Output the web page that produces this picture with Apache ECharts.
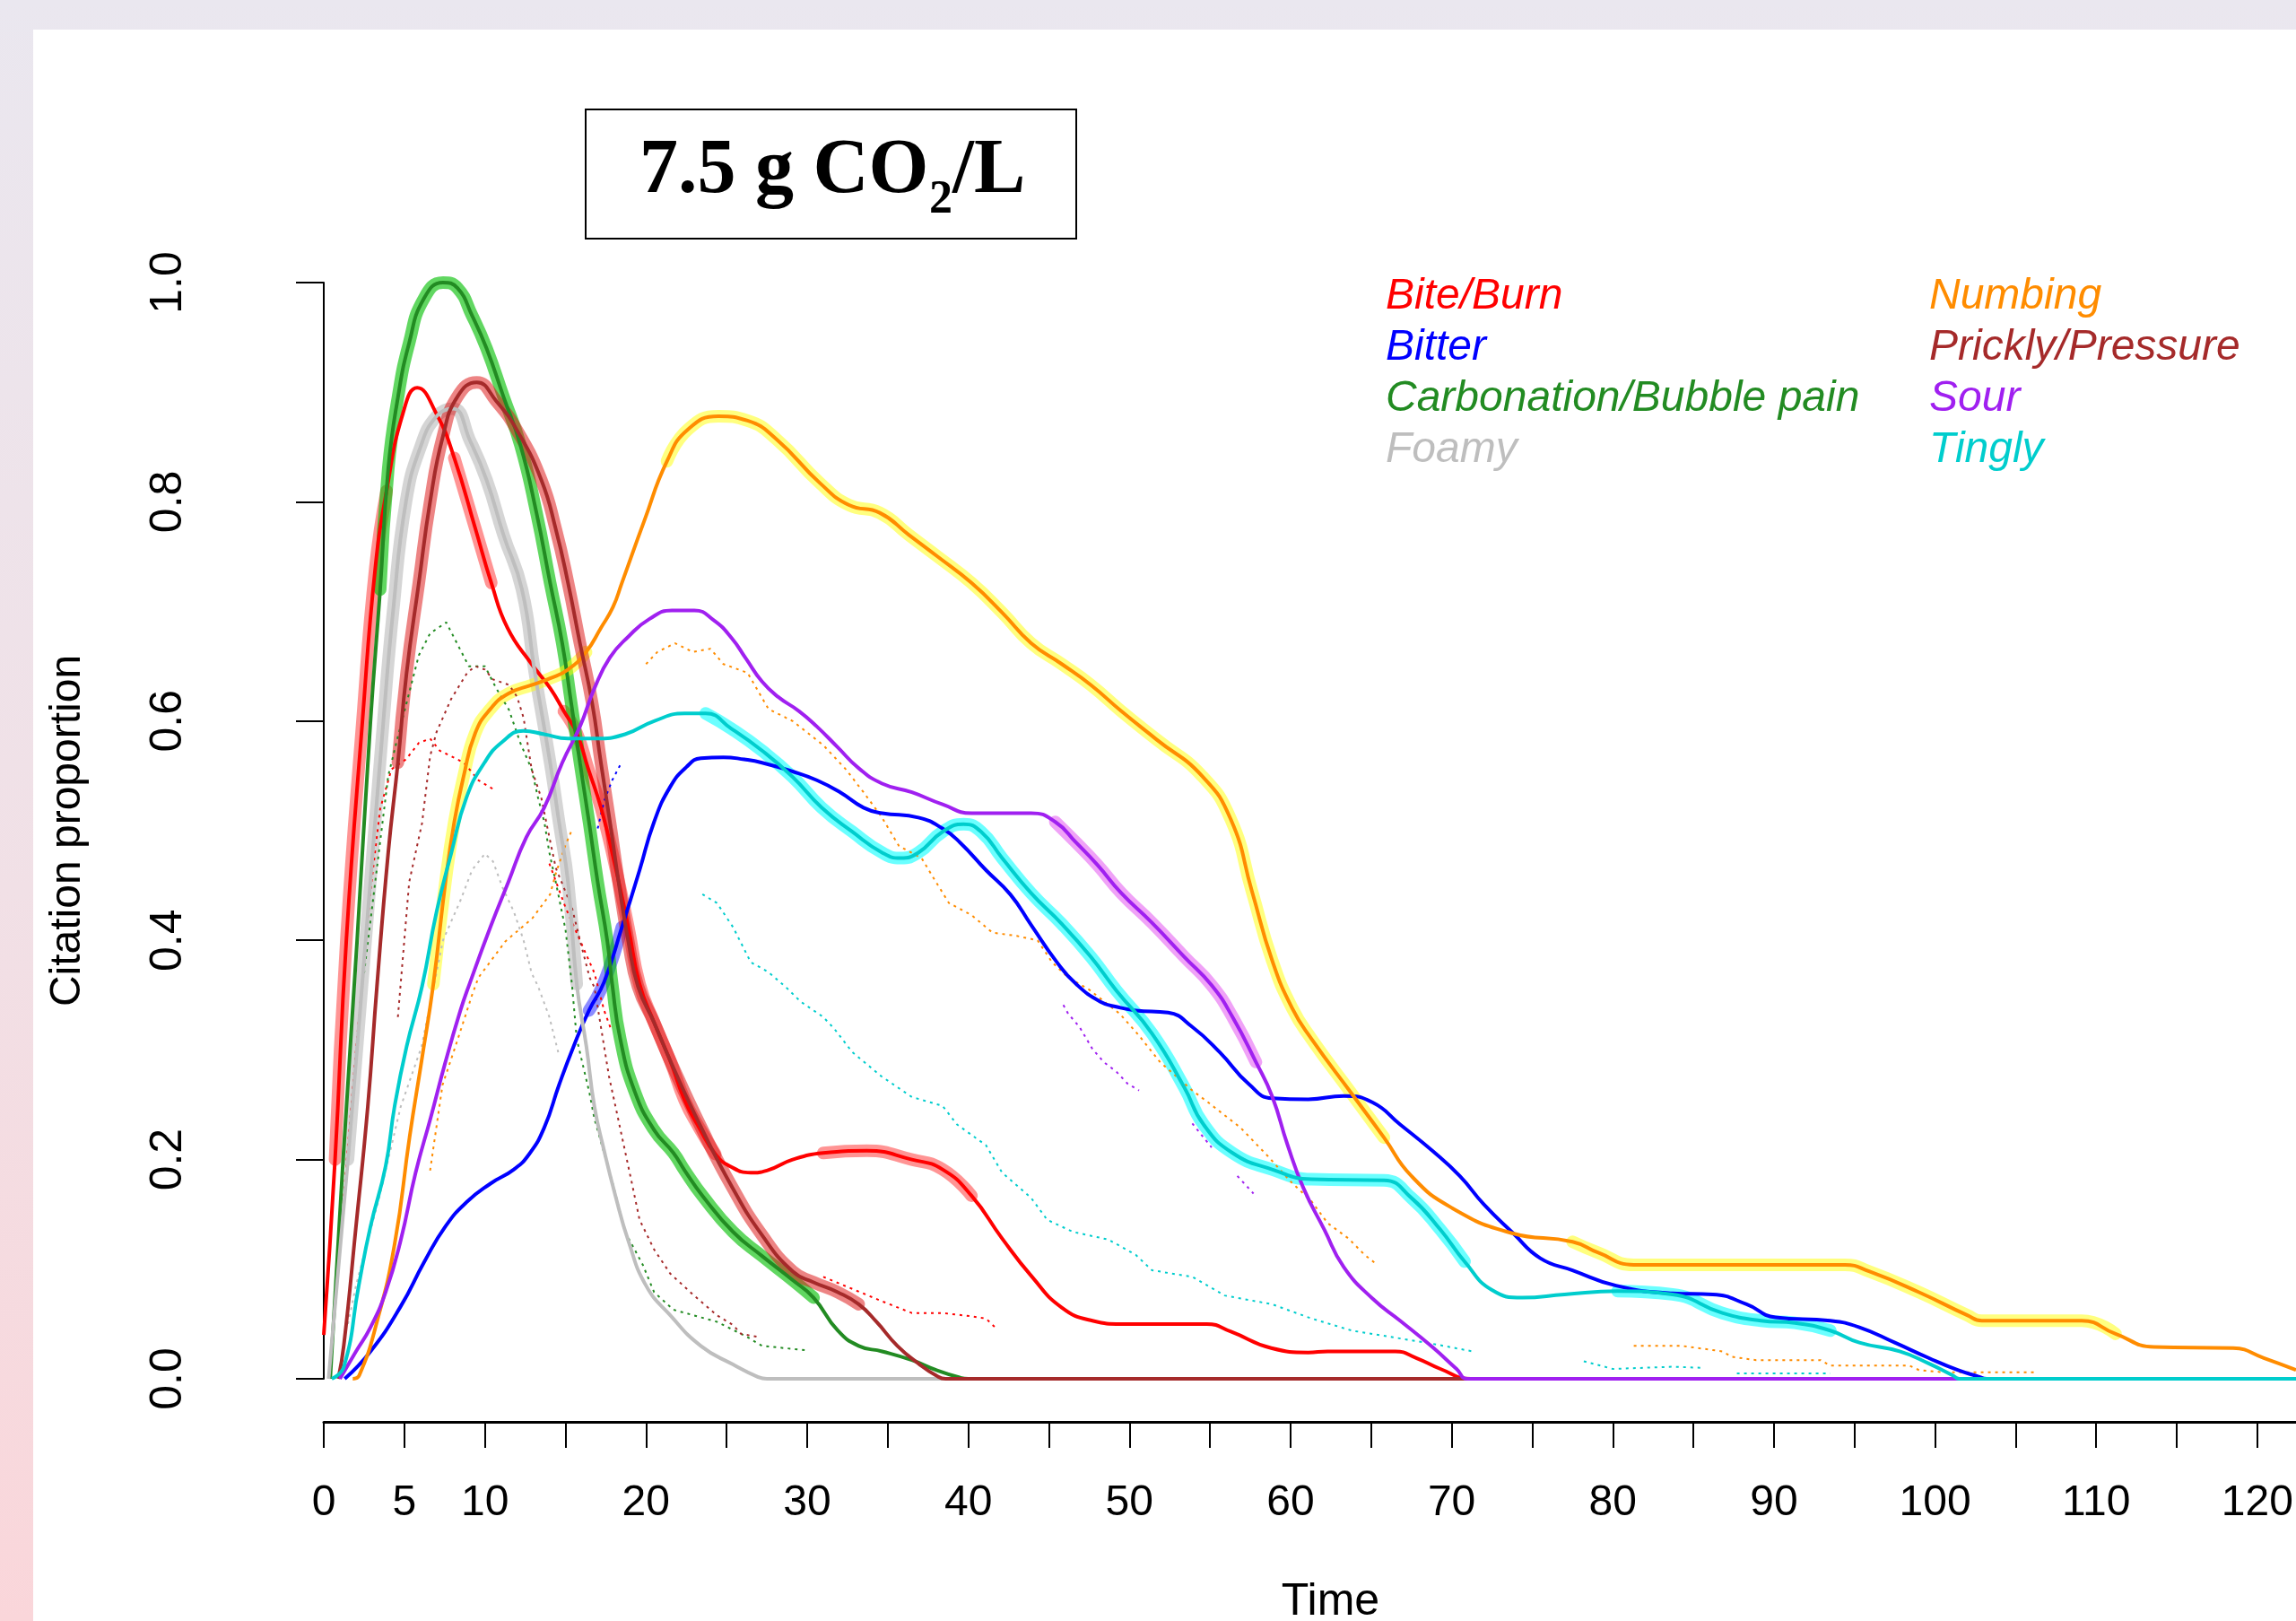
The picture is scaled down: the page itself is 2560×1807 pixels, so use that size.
<!DOCTYPE html>
<html>
<head>
<meta charset="utf-8">
<title>7.5 g CO2/L</title>
<script src="https://cdn.jsdelivr.net/npm/echarts@6/dist/echarts.min.js"></script>
<style>
  html, body {
    margin: 0;
    padding: 0;
    width: 2560px;
    height: 1807px;
    overflow: hidden;
    background: linear-gradient(180deg, #EAE7EF 0%, #F1E0E6 55%, #FAD6DA 100%);
  }
  #paper { position: absolute; left: 37px; top: 33px; width: 2523px; height: 1774px; background: #fff; }
  #chart { position: absolute; left: 0; top: 0; width: 2560px; height: 1807px; }
</style>
</head>
<body>
<div id="paper"></div>
<div id="chart"></div>
<script>
// time axis
const timeTicks = [0, 5, 10, 15, 20, 25, 30, 35, 40, 45, 50, 55, 60, 65, 70, 75, 80, 85, 90, 95, 100, 105, 110, 115, 120];
const timeLabels = [0, 5, 10, 20, 30, 40, 50, 60, 70, 80, 90, 100, 110, 120];

const attributeNames = ['Bite/Burn', 'Bitter', 'Carbonation/Bubble pain', 'Foamy',
  'Numbing', 'Prickly/Pressure', 'Sour', 'Tingly'];

// smoothed dominance curves [time, citation proportion]
const biteBurn = [[0, 0.04], [0.7, 0.2], [1.4, 0.4], [2.4, 0.6], [3.2, 0.74], [3.9, 0.81], [4.9, 0.88], [5.8, 0.904],
  [7.0, 0.88], [8.1, 0.84], [9.4, 0.776], [10.4, 0.726], [11.4, 0.685], [12.9, 0.652], [14.05, 0.63], [14.9, 0.609],
  [15.7, 0.589], [16.4, 0.557], [17.2, 0.521], [18.1, 0.467], [18.9, 0.412], [19.6, 0.36], [20.5, 0.325], [21.5, 0.29],
  [22.4, 0.254], [23.3, 0.229], [24.3, 0.205], [25.2, 0.194], [26.5, 0.188], [27.5, 0.19], [29.1, 0.2], [31, 0.206],
  [33.7, 0.208], [36.5, 0.2], [38.4, 0.191], [40.2, 0.167], [42.1, 0.128], [43.9, 0.094], [45.8, 0.065], [47.7, 0.053],
  [49.5, 0.05], [54.8, 0.05], [56.3, 0.043], [58.8, 0.028], [61.1, 0.024], [62.3, 0.025], [66.5, 0.025], [67.8, 0.019],
  [69.3, 0.009], [71.2, 0], [122.4, 0]];

const bitter = [[1.3, 0], [2.9, 0.025], [4.77, 0.066], [6.25, 0.107], [7.55, 0.139], [8.85, 0.161], [10.34, 0.178],
  [11.8, 0.191], [12.75, 0.205], [13.68, 0.229], [14.6, 0.268], [15.5, 0.303], [16.46, 0.336], [17.4, 0.362],
  [18.5, 0.412], [19.6, 0.464], [20.5, 0.508], [21.5, 0.54], [22.5, 0.558], [23.4, 0.566], [24.8, 0.567], [26.1, 0.565],
  [27.2, 0.562], [29.1, 0.554], [30.6, 0.546], [32.05, 0.535], [33.5, 0.521], [34.65, 0.516], [36.9, 0.512],
  [38.4, 0.502], [39.5, 0.489], [41.1, 0.464], [42.6, 0.442], [43.9, 0.414], [45.5, 0.38], [46.7, 0.36], [48.2, 0.344],
  [49.3, 0.339], [50.4, 0.336], [52.4, 0.334], [53.9, 0.321], [55.6, 0.298], [57.4, 0.269], [58.85, 0.256],
  [61.1, 0.255], [63.3, 0.258], [65.1, 0.252], [66.8, 0.232], [68.8, 0.208], [70.5, 0.185], [72, 0.159], [73.8, 0.133],
  [75.5, 0.11], [77.5, 0.099], [80.2, 0.085], [83.7, 0.078], [86.2, 0.077], [88.3, 0.068], [90.1, 0.056], [93.5, 0.053],
  [95.3, 0.047], [97.5, 0.033], [99.6, 0.019], [101.4, 0.008], [102.7, 0.002], [103.2, 0], [122.4, 0]];

const carbonation = [[0.4, 0], [1.2, 0.2], [2.07, 0.4], [2.9, 0.6], [3.5, 0.72], [4.0, 0.83], [4.6, 0.895], [5.3, 0.945],
  [6.2, 0.985], [7.4, 1.0], [8.3, 0.995], [9.2, 0.97], [10.1, 0.94], [11.15, 0.896], [12.2, 0.852], [13.2, 0.79],
  [14.05, 0.726], [14.8, 0.671], [15.35, 0.617], [15.9, 0.562], [16.46, 0.508], [17.0, 0.453], [17.6, 0.399],
  [17.9, 0.36], [18.4, 0.31], [19.3, 0.262], [20.5, 0.227], [21.7, 0.206], [22.4, 0.19], [23.5, 0.167], [25.4, 0.134],
  [27.2, 0.112], [29.1, 0.09], [30.4, 0.074], [31.9, 0.044], [33.2, 0.03], [34.65, 0.025], [36.5, 0.017], [38, 0.008],
  [39.5, 0.001], [40, 0], [122.4, 0]];

const foamy = [[0.3, 0], [1.5, 0.2], [2.6, 0.4], [3.7, 0.6], [4.3, 0.7], [5.1, 0.8], [6.0, 0.85], [7.0, 0.878],
  [8.0, 0.885], [9.1, 0.855], [10.1, 0.82], [11.15, 0.77], [12.3, 0.72], [13.1, 0.644], [14.05, 0.562], [14.6, 0.508],
  [15.16, 0.453], [15.7, 0.36], [16.3, 0.303], [16.8, 0.248], [17.4, 0.208], [18.1, 0.167], [18.9, 0.126], [20, 0.085],
  [21.5, 0.058], [23.4, 0.03], [25.4, 0.013], [26.9, 0.002], [27.5, 0], [122.4, 0]];

const numbing = [[1.8, 0], [2.2, 0.003], [3.3, 0.052], [4.4, 0.123], [5.33, 0.221], [6.07, 0.29], [6.8, 0.36],
  [7.55, 0.453], [8.1, 0.508], [8.67, 0.549], [9.4, 0.589], [10.34, 0.611], [11.45, 0.625], [12.94, 0.633],
  [14.05, 0.639], [15.16, 0.647], [16.28, 0.663], [17.2, 0.685], [17.95, 0.704], [18.5, 0.726], [19.9, 0.783],
  [21.3, 0.837], [22.6, 0.866], [24.5, 0.878], [26.3, 0.874], [28.1, 0.857], [30.8, 0.817], [32.6, 0.797], [34.5, 0.79],
  [36.3, 0.77], [38.1, 0.75], [40.2, 0.726], [42.1, 0.699], [43.9, 0.671], [45.8, 0.652], [47.6, 0.633], [49.5, 0.609],
  [51.7, 0.583], [54.5, 0.55], [56.3, 0.51], [57.6, 0.445], [58.85, 0.382], [60.1, 0.338], [61.3, 0.31], [63.8, 0.26],
  [65.8, 0.22], [67.5, 0.185], [70, 0.156], [73.7, 0.133], [77.5, 0.125], [79.1, 0.115], [81.3, 0.104], [86.8, 0.104],
  [94.4, 0.104], [95.9, 0.098], [99, 0.079], [102, 0.058], [102.9, 0.053], [109.1, 0.053], [111.2, 0.041],
  [113.6, 0.029], [118.5, 0.028], [120.4, 0.019], [122.4, 0.008]];

const prickly = [[0.9, 0], [1.24, 0.03], [2.0, 0.139], [2.73, 0.248], [3.3, 0.358], [4.0, 0.48], [4.6, 0.562],
  [5.14, 0.644], [5.9, 0.726], [6.6, 0.8], [7.4, 0.86], [8.3, 0.896], [9.5, 0.909], [10.7, 0.892], [12, 0.865],
  [13.5, 0.82], [14.4, 0.775], [15.16, 0.726], [15.9, 0.671], [16.65, 0.617], [17.2, 0.562], [17.76, 0.508],
  [18.3, 0.453], [18.9, 0.399], [19.5, 0.358], [20.5, 0.325], [21.6, 0.287], [23.4, 0.23], [25.3, 0.176], [27.2, 0.131],
  [29.1, 0.098], [30.4, 0.088], [31.9, 0.079], [33.2, 0.068], [34.3, 0.052], [35.6, 0.03], [36.9, 0.014], [38, 0.003],
  [38.6, 0], [122.4, 0]];

const sour = [[1.0, 0], [2.0, 0.025], [2.9, 0.047], [3.84, 0.079], [4.77, 0.126], [5.7, 0.188], [6.63, 0.238],
  [7.55, 0.289], [8.48, 0.336], [9.04, 0.36], [10.34, 0.412], [11.45, 0.453], [12.57, 0.494], [13.68, 0.521],
  [14.8, 0.562], [15.9, 0.595], [16.8, 0.63], [17.76, 0.658], [18.9, 0.677], [20.2, 0.693], [21.6, 0.701], [23.0, 0.701],
  [24.2, 0.692], [25.3, 0.676], [26.2, 0.657], [27.2, 0.636], [28.2, 0.622], [29.5, 0.609], [30.6, 0.595], [31.9, 0.576],
  [33.2, 0.557], [34.65, 0.543], [36.5, 0.535], [38.4, 0.524], [40.2, 0.516], [43.9, 0.516], [45.4, 0.508],
  [46.7, 0.489], [48, 0.469], [49.5, 0.443], [51.4, 0.416], [53.4, 0.385], [55.1, 0.359], [56.4, 0.33], [57.85, 0.289],
  [58.85, 0.258], [59.8, 0.214], [60.8, 0.174], [62.1, 0.136], [63.3, 0.102], [65.1, 0.073], [66.8, 0.053],
  [68.8, 0.029], [70.3, 0.009], [71, 0], [122.4, 0]];

const tingly = [[0.5, 0], [1.25, 0.011], [2.17, 0.085], [2.9, 0.139], [3.84, 0.194], [4.4, 0.249], [5.14, 0.303],
  [6.1, 0.358], [7.0, 0.426], [7.92, 0.48], [8.85, 0.53], [9.97, 0.562], [11.08, 0.581], [12.38, 0.591], [13.68, 0.588],
  [15.16, 0.584], [16.83, 0.584], [18.7, 0.588], [20.5, 0.6], [22.4, 0.607], [23.7, 0.607], [25.3, 0.593],
  [27.2, 0.573], [29.1, 0.549], [30.9, 0.521], [32.8, 0.499], [34.65, 0.48], [35.8, 0.475], [36.9, 0.48], [38.4, 0.499],
  [39.7, 0.506], [40.8, 0.499], [42.1, 0.475], [43.9, 0.443], [45.8, 0.415], [47.6, 0.385], [49.2, 0.354],
  [51.4, 0.315], [53.4, 0.266], [54.6, 0.232], [56.4, 0.206], [58.85, 0.191], [61.3, 0.182], [65.8, 0.181],
  [67.5, 0.165], [69.3, 0.136], [70.8, 0.107], [72.5, 0.081], [74.4, 0.074], [77, 0.077], [80.3, 0.08], [83.7, 0.077],
  [86.8, 0.06], [89.2, 0.053], [91.3, 0.051], [93.5, 0.044], [95.3, 0.033], [97.8, 0.025], [99.6, 0.014],
  [101.1, 0.003], [101.5, 0], [122.4, 0]];

// time spans where the curve is highlighted (significant)
const biteBurnSig = [[0.5, 4], [8, 11], [14.5, 25], [30.5, 42]];
const bitterSig = [[16.4, 18.6]];
const carbonationSig = [[3, 30.5]];
const foamySig = [[1, 16]];
const numbingSig = [[6.3, 16.3], [20, 66], [77.5, 112]];
const pricklySig = [[4.2, 27.5], [28.5, 30.5], [31.5, 33.5]];
const sourSig = [[45.4, 58]];
const tinglySig = [[23.2, 71.3], [78, 94]];

// dotted reference curves, one list of segments per attribute
const biteBurnDots = [
  [[1.2, 0.16], [2.0, 0.3], [2.9, 0.445], [3.5, 0.52], [4.2, 0.556], [5.1, 0.565], [5.9, 0.58], [6.6, 0.584],
   [7.2, 0.573], [7.9, 0.568], [8.7, 0.562], [9.6, 0.546], [10.5, 0.538]],
  [[14, 0.47], [15, 0.43], [15.9, 0.4], [16.8, 0.37], [17.4, 0.336], [17.8, 0.32]],
  [[31, 0.093], [32.8, 0.082], [34.6, 0.071], [36.5, 0.06], [38.4, 0.06], [40.2, 0.057], [41.1, 0.055], [41.8, 0.045]]
];
const bitterDots = [
  [[17.0, 0.502], [17.4, 0.527], [17.9, 0.546], [18.4, 0.56]]
];
const carbonationDots = [
  [[2.5, 0.37], [3.5, 0.49], [4.0, 0.55], [4.5, 0.58], [5.9, 0.66], [6.6, 0.68], [7.6, 0.69], [8.3, 0.67], [9.0, 0.65],
   [10, 0.65], [10.7, 0.63], [11.5, 0.61], [12.2, 0.58], [12.9, 0.556], [13.3, 0.53], [13.7, 0.507], [14.0, 0.48],
   [14.4, 0.453], [15, 0.41], [15.4, 0.36], [15.7, 0.31], [16.5, 0.26], [16.8, 0.237], [17.9, 0.18], [18.7, 0.134],
   [19.8, 0.104], [20.5, 0.079], [21.7, 0.063], [24.4, 0.052], [26.3, 0.038], [27.2, 0.03], [30, 0.026]]
];
const foamyDots = [
  [[1.5, 0.05], [2.0, 0.085], [3.47, 0.167], [4.77, 0.248], [6.07, 0.303], [7.4, 0.4], [8.5, 0.437], [9.2, 0.464],
   [10, 0.479], [10.5, 0.472], [11.1, 0.448], [11.8, 0.426], [12.4, 0.4], [12.9, 0.37], [13.3, 0.358], [14, 0.33],
   [14.6, 0.295]]
];
const numbingDots = [
  [[6.6, 0.19], [7.37, 0.268], [8.3, 0.309], [9.2, 0.35], [9.6, 0.366], [11.27, 0.399], [12.94, 0.42], [14.05, 0.442],
   [14.4, 0.461], [14.98, 0.486], [15.35, 0.499]],
  [[20, 0.652], [20.7, 0.663], [21.8, 0.671], [22.9, 0.663], [24, 0.666], [24.8, 0.652], [26.3, 0.644], [27.6, 0.611],
   [29.1, 0.6], [31, 0.578], [32.4, 0.556], [33.5, 0.535], [34.6, 0.513], [35.7, 0.486], [37.1, 0.475], [38, 0.453],
   [38.8, 0.434], [40.2, 0.423], [41.5, 0.407], [43, 0.404], [44.3, 0.4], [45.2, 0.38], [46.2, 0.366], [47.5, 0.355],
   [49.4, 0.333], [50.6, 0.313], [51.9, 0.289], [53.9, 0.263], [54.9, 0.252], [56.9, 0.229], [58.6, 0.203],
   [60, 0.18], [61.3, 0.162], [62.3, 0.142], [63.6, 0.128], [64.6, 0.113], [65.3, 0.105]],
  [[81.3, 0.03], [84.3, 0.03], [86.8, 0.025], [87.4, 0.02], [88.9, 0.017], [92.9, 0.017], [93.5, 0.012], [98.4, 0.012],
   [99, 0.008], [100.5, 0.006], [106.3, 0.006]]
];
const pricklyDots = [
  [[4.6, 0.33], [5.3, 0.453], [6.1, 0.507], [6.6, 0.568], [7.0, 0.59], [7.9, 0.62], [8.9, 0.644], [9.4, 0.65],
   [10, 0.647], [10.5, 0.638], [11.5, 0.633], [12.0, 0.622], [12.4, 0.603], [12.6, 0.584], [12.9, 0.556], [13.5, 0.53],
   [14, 0.494], [14.4, 0.466], [15.4, 0.43], [15.9, 0.4], [16.5, 0.366], [16.8, 0.357], [17.4, 0.303], [17.7, 0.276],
   [18.3, 0.235], [19.1, 0.18], [19.6, 0.145], [20.5, 0.118], [21.5, 0.096], [22.9, 0.077], [24.4, 0.058],
   [25.4, 0.049], [25.9, 0.041], [27, 0.038]]
];
const sourDots = [
  [[45.9, 0.341], [46.2, 0.333], [46.9, 0.321], [47.7, 0.301], [48.4, 0.289], [49.2, 0.28], [49.9, 0.269], [50.6, 0.263]],
  [[53.9, 0.233], [55.1, 0.211]],
  [[56.7, 0.185], [57.7, 0.169]]
];
const tinglyDots = [
  [[23.5, 0.442], [24.4, 0.434], [25.4, 0.412], [26.5, 0.38], [27.6, 0.371], [28.7, 0.357], [29.6, 0.344], [31, 0.33],
   [31.7, 0.319], [32.8, 0.298], [34.6, 0.276], [36.5, 0.257], [38.4, 0.249], [39.3, 0.232], [41.1, 0.213],
   [42.1, 0.188], [43.9, 0.165], [44.9, 0.145], [46.5, 0.134], [48.7, 0.127], [50.4, 0.113], [51.4, 0.099],
   [53.9, 0.093], [55.9, 0.076], [58.85, 0.068], [61.3, 0.055], [63.8, 0.044], [66.3, 0.038], [68.8, 0.032],
   [71.3, 0.025]],
  [[78.2, 0.016], [80, 0.009], [83.7, 0.011], [85.5, 0.01]],
  [[87.7, 0.005], [93.5, 0.005]]
];

const curves = [biteBurn, bitter, carbonation, foamy, numbing, prickly, sour, tingly];
const sigSpans = [biteBurnSig, bitterSig, carbonationSig, foamySig, numbingSig, pricklySig, sourSig, tinglySig];
const dotSegments = [biteBurnDots, bitterDots, carbonationDots, foamyDots, numbingDots, pricklyDots, sourDots, tinglyDots];

const lineColors = ['#FF0000', '#0000FF', '#228B22', '#BEBEBE', '#FF8C00', '#A52A2A', '#A020F0', '#00CDCD'];
const glowColors = ['rgba(255,0,0,0.42)', 'rgba(0,0,255,0.45)', 'rgba(0,190,0,0.62)', 'rgba(185,185,185,0.6)',
  'rgba(255,255,0,0.5)', 'rgba(220,20,20,0.52)', 'rgba(225,70,240,0.5)', 'rgba(0,255,255,0.58)'];

function sigPart(points, spans) {
  return points.map(p => spans.some(s => p[0] >= s[0] && p[0] <= s[1]) ? p : [p[0], '-']);
}
function joinSegments(segs) {
  const out = [];
  segs.forEach((s, i) => {
    if (i) out.push([s[0][0], '-']);
    out.push(...s);
  });
  return out;
}

const font = 'Liberation Sans';
const series = [];
// halos first, then dotted curves, then the solid curves
attributeNames.forEach((name, i) => {
  series.push({
    type: 'line', name, data: sigPart(curves[i], sigSpans[i]), smooth: 0.5,
    symbol: 'none', connectNulls: false, silent: true, z: 1,
    lineStyle: { color: glowColors[i], width: 14, cap: 'round', join: 'round' },
    emphasis: { disabled: true }
  });
});
attributeNames.forEach((name, i) => {
  series.push({
    type: 'line', name, data: joinSegments(dotSegments[i]), symbol: 'none', connectNulls: false, silent: true, z: 2,
    lineStyle: { color: lineColors[i], width: 2, type: [3, 5] },
    emphasis: { disabled: true }
  });
});
attributeNames.forEach((name, i) => {
  series.push({
    type: 'line', name, data: curves[i], smooth: 0.5, symbol: 'none', z: 3,
    lineStyle: { color: lineColors[i], width: 4 },
    emphasis: { disabled: true }
  });
});

const legendBase = {
  orient: 'vertical', icon: 'rect', itemWidth: 0, itemHeight: 47, itemGap: 9, padding: 0,
  itemStyle: { opacity: 0 }, lineStyle: { opacity: 0 },
  textStyle: { fontFamily: font, fontStyle: 'italic', fontSize: 48 }
};

const chart = echarts.init(document.getElementById('chart'));
chart.setOption({
  animation: false,
  backgroundColor: 'transparent',
  grid: { left: 361, right: 0, top: 315, bottom: 270, containLabel: false, outerBoundsMode: 'none' },
  xAxis: {
    type: 'value', min: 0, max: 122.4, offset: 48,
    name: 'Time', nameLocation: 'middle', nameGap: 176,
    nameTextStyle: { fontFamily: font, fontSize: 50, color: '#000', padding: [0, 0, 0, 46] },
    axisLine: { show: true, onZero: false, lineStyle: { color: '#000', width: 3 } },
    axisTick: { show: true, length: 29, customValues: timeTicks, lineStyle: { color: '#000', width: 2 } },
    axisLabel: { customValues: timeLabels, margin: 67, fontFamily: font, fontSize: 48, color: '#000' },
    splitLine: { show: false }
  },
  yAxis: {
    type: 'value', min: 0, max: 1, interval: 0.2, offset: 88,
    name: 'Citation proportion', nameLocation: 'middle', nameGap: 173, nameRotate: 90,
    nameTextStyle: { fontFamily: font, fontSize: 48, color: '#000' },
    axisLine: { show: true, lineStyle: { color: '#000', width: 2 } },
    axisTick: { show: true, length: 31, lineStyle: { color: '#000', width: 2 } },
    axisLabel: { rotate: 90, margin: 60, fontFamily: font, fontSize: 50, color: '#000',
      formatter: v => v.toFixed(1) },
    splitLine: { show: false }
  },
  legend: [
    Object.assign({}, legendBase, {
      left: 1540, top: 307,
      data: attributeNames.slice(0, 4).map((n, i) => ({ name: n, textStyle: { color: lineColors[i] } }))
    }),
    Object.assign({}, legendBase, {
      left: 2146, top: 307,
      data: attributeNames.slice(4).map((n, i) => ({ name: n, textStyle: { color: lineColors[i + 4] } }))
    })
  ],
  graphic: [
    { type: 'rect', shape: { x: 653, y: 122, width: 547, height: 144 },
      style: { fill: '#fff', stroke: '#000', lineWidth: 2 } },
    { type: 'text', x: 713, y: 192,
      style: { text: '7.5 g CO', fontFamily: 'Liberation Serif', fontWeight: 'bold', fontSize: 86,
        fill: '#000', textAlign: 'left', textVerticalAlign: 'middle' } },
    { type: 'text', x: 1036, y: 224,
      style: { text: '2', fontFamily: 'Liberation Serif', fontWeight: 'bold', fontSize: 52,
        fill: '#000', textAlign: 'left', textVerticalAlign: 'middle' } },
    { type: 'text', x: 1062, y: 192,
      style: { text: '/L', fontFamily: 'Liberation Serif', fontWeight: 'bold', fontSize: 86,
        fill: '#000', textAlign: 'left', textVerticalAlign: 'middle' } }
  ],
  series
});
</script>
</body>
</html>
